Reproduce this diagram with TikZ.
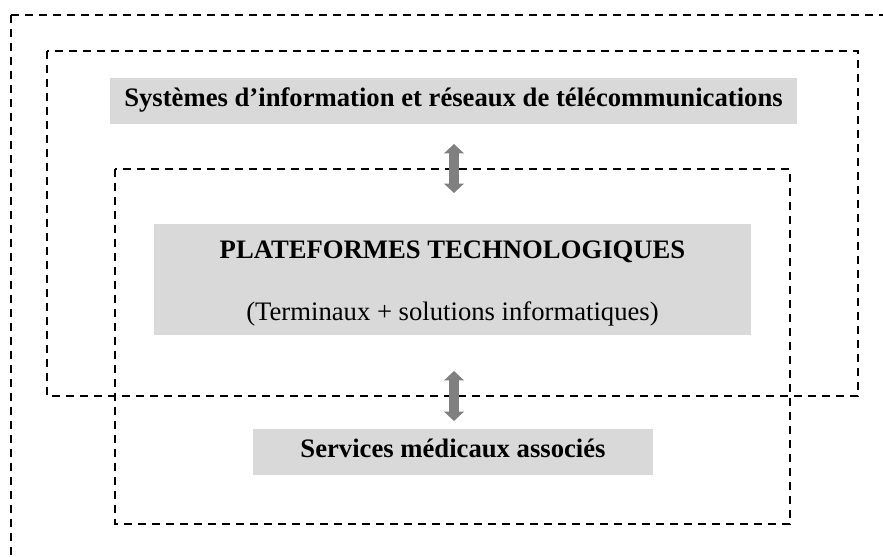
\documentclass[tikz,border=0pt]{standalone}
\usepackage{fontspec}
\setmainfont{Liberation Serif}
\usetikzlibrary{arrows.meta}
\definecolor{grisboite}{HTML}{D9D9D9}
\definecolor{grisfleche}{HTML}{808080}
\begin{document}
\begin{tikzpicture}[x=0.75pt,y=-0.75pt,line join=miter,font=\fontsize{20}{24}\selectfont,
	cadre/.style={dash pattern=on 6pt off 4.5pt,line width=1.5pt},
	boite/.style={fill=grisboite,inner sep=0pt,text height=12pt,text depth=4.5pt},
	fleche/.style={draw=grisfleche,line width=7.5pt,{Triangle[width=14.5pt,length=7pt]}-{Triangle[width=14.5pt,length=7pt]}}]
	\useasboundingbox (0,0) rectangle (883,557);
	%% points
	\path
	(454,144) coordinate (F1h)
	(454,193) coordinate (F1b)
	(454,371) coordinate (F2h)
	(454,421) coordinate (F2b)
	;
	
	%% cadres en pointilles
	\draw[cadre] (11,15) rectangle (900,600);
	\draw[cadre] (47,51) rectangle (858,396);
	\draw[cadre] (115,169) rectangle (790,524);
	
	%% boites grises
	\node[boite,minimum width=687*0.75pt,minimum height=46*0.75pt] (SI) at (453.5,101)
	{\textbf{Systèmes d’information et réseaux de télécommunications}};
	\node[fill=grisboite,inner sep=0pt,minimum width=597*0.75pt,minimum height=111*0.75pt] (PT) at (452.5,279.5) {};
	\node[anchor=base] (PTtitre) at (452.5,258) {\textbf{PLATEFORMES TECHNOLOGIQUES}};
	\node[anchor=base] (PTsous) at (452.5,320) {(Terminaux + solutions informatiques)};
	\node[boite,minimum width=400*0.75pt,minimum height=46*0.75pt] (SM) at (453,452)
	{\textbf{Services médicaux associés}};
	
	%% fleches
	\foreach \h/\b in {F1h/F1b,F2h/F2b}
	\draw[fleche] (\h)--(\b);
\end{tikzpicture}
\end{document}
